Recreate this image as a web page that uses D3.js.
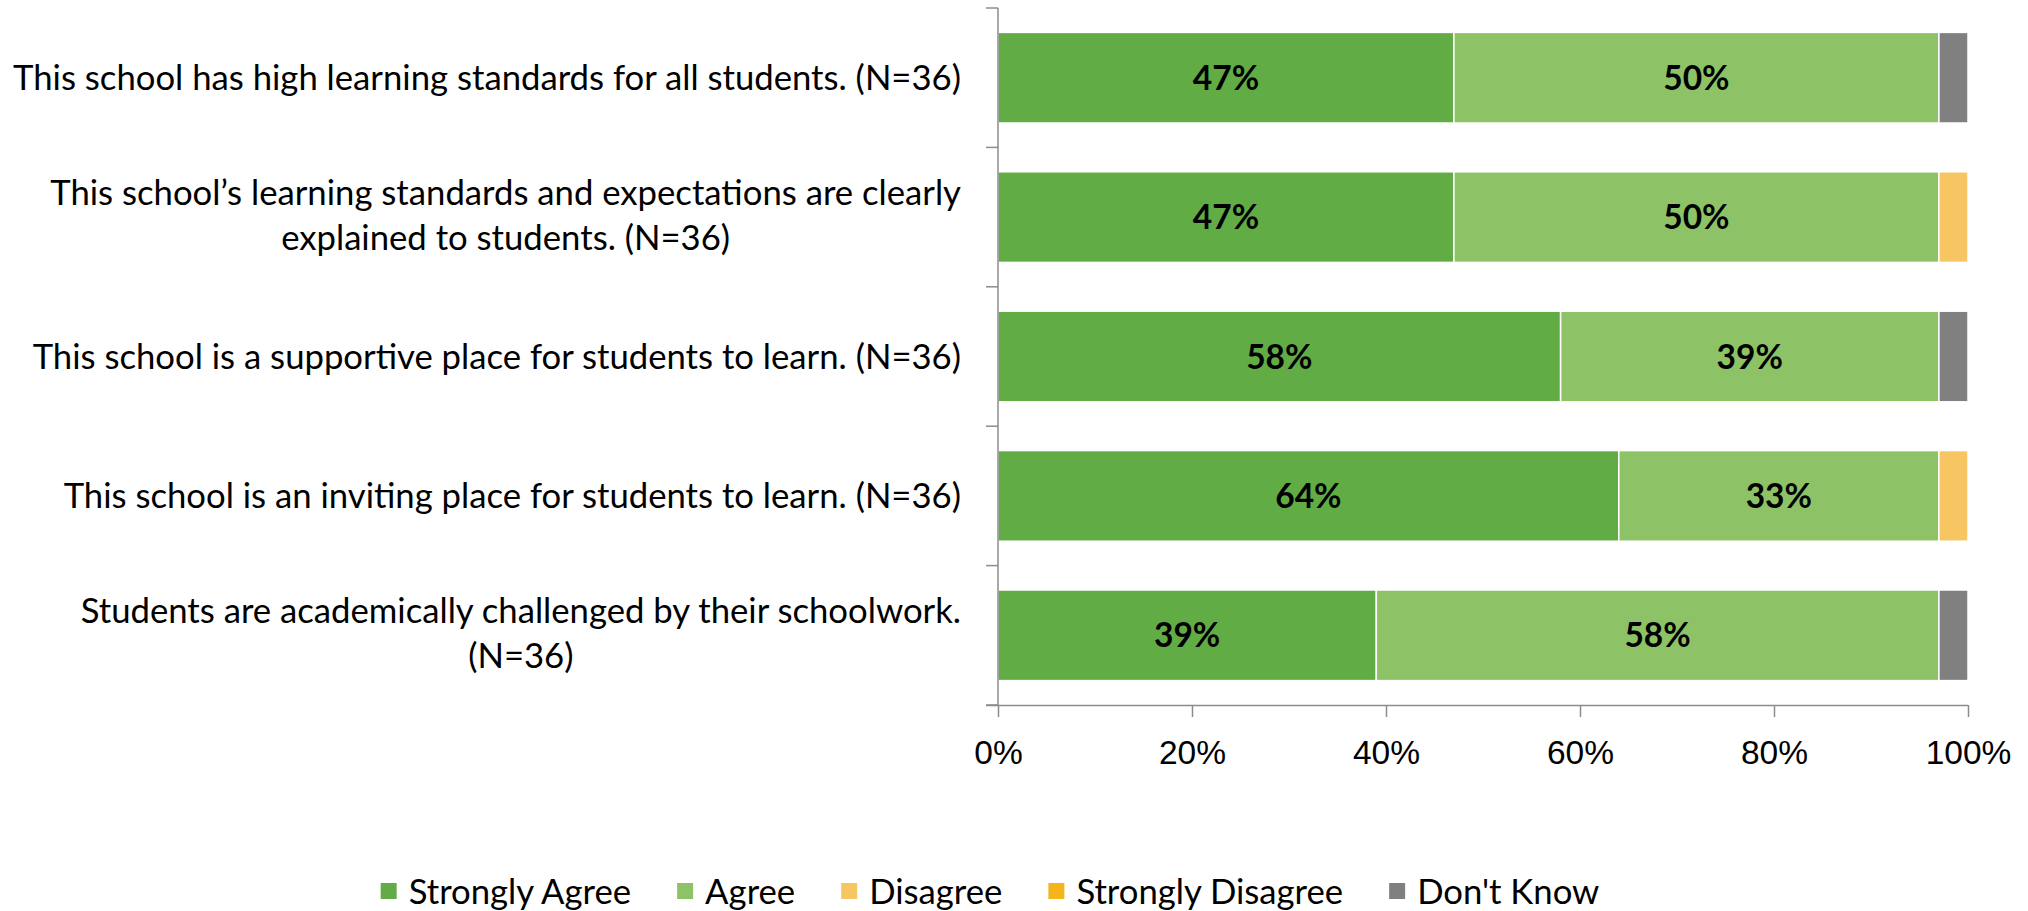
<!DOCTYPE html>
<html>
<head>
<meta charset="utf-8">
<script src="https://cdn.jsdelivr.net/npm/d3@7"></script>
<style>
  html, body { margin: 0; padding: 0; background: #fff; }
  svg { display: block; font-family: Lato, "Liberation Sans", sans-serif; }
</style>
</head>
<body>
<svg id="chart" width="2028" height="911"></svg>
<script>
const categories = [
  ["This school has high learning standards for all students. (N=36)"],
  ["This school\u2019s learning standards and expectations are clearly", "explained to students. (N=36)"],
  ["This school is a supportive place for students to learn. (N=36)"],
  ["This school is an inviting place for students to learn. (N=36)"],
  ["Students are academically challenged by their schoolwork.", "(N=36)"]
];
const seriesNames = ["Strongly Agree", "Agree", "Disagree", "Strongly Disagree", "Don't Know"];
const stronglyAgree    = [47, 47, 58, 64, 39];
const agree            = [50, 50, 39, 33, 58];
const disagree         = [0, 3, 0, 3, 0];
const stronglyDisagree = [0, 0, 0, 0, 0];
const dontKnow         = [3, 0, 3, 0, 3];
const xTicks = [0, 20, 40, 60, 80, 100];
const colors = ["#62ac46", "#8dc366", "#f7c562", "#f4b41a", "#808080"];

const seriesValues = [stronglyAgree, agree, disagree, stronglyDisagree, dontKnow];
const rows = categories.map((c, i) => {
  const r = { key: i };
  seriesNames.forEach((s, j) => r[s] = seriesValues[j][i]);
  return r;
});

const svg = d3.select("#chart");
const FS = 33.5;
const FS_CAT = 34.7;
const axisColor = "#8c8c8c";

const x = d3.scaleLinear().domain([0, 100]).range([998, 1968]);
const y = d3.scaleBand().domain(d3.range(categories.length)).range([8, 705])
  .paddingInner(0.35).paddingOuter(0.175);

const stack = d3.stack().keys(seriesNames);
const stacked = stack(rows);

// bars
const g = svg.append("g");
stacked.forEach((layer, j) => {
  g.selectAll(null).data(layer).join("rect")
    .attr("x", d => x(d[0]))
    .attr("y", (d, i) => y(i))
    .attr("width", d => Math.max(0, x(d[1]) - x(d[0])))
    .attr("height", y.bandwidth())
    .attr("fill", colors[j])
    .attr("stroke", "#fff")
    .attr("stroke-width", 1.5)
    .attr("display", d => (d[1] - d[0]) > 0 ? null : "none");
});

// data labels (only for big segments)
stacked.forEach((layer, j) => {
  g.selectAll(null).data(layer.map((d, i) => ({d, i})).filter(o => o.d[1] - o.d[0] >= 10))
    .join("text")
    .attr("x", o => x((o.d[0] + o.d[1]) / 2))
    .attr("y", o => y(o.i) + y.bandwidth() / 2)
    .attr("dy", "0.36em")
    .attr("text-anchor", "middle")
    .attr("font-weight", "bold")
    .attr("font-size", FS)
    .attr("fill", "#000")
    .text(o => (o.d[1] - o.d[0]) + "%");
});

// left axis line with category boundary ticks
const yBoundaries = d3.range(categories.length + 1).map(i => 8 + i * (697 / categories.length));
svg.append("line").attr("x1", x(0)).attr("x2", x(0)).attr("y1", 8).attr("y2", 705)
  .attr("stroke", axisColor).attr("stroke-width", 1.5);
svg.selectAll(null).data(yBoundaries).join("line")
  .attr("x1", x(0) - 12).attr("x2", x(0)).attr("y1", d => d).attr("y2", d => d)
  .attr("stroke", axisColor).attr("stroke-width", 1.5);

// bottom axis
const xAxis = d3.axisBottom(x).tickValues(xTicks).tickFormat(d => d + "%").tickSize(12).tickSizeOuter(0);
const xa = svg.append("g").attr("transform", "translate(0,705)").call(xAxis);
xa.select(".domain").attr("stroke", axisColor).attr("stroke-width", 1.5)
  .attr("d", `M${x(0) - 12},0.5H${x(100)}`);
xa.selectAll(".tick line").attr("stroke", axisColor).attr("stroke-width", 1.5);
xa.selectAll(".tick text").attr("font-size", FS).attr("font-family", null).attr("fill", "#000")
  .attr("y", 0).attr("dy", 59);

// category labels
const labelRight = 961;
const lineH = 45;
categories.forEach((lines, i) => {
  const cy = y(i) + y.bandwidth() / 2 - (lines.length > 1 ? 2 : 0);
  const tg = svg.append("g");
  const texts = lines.map((ln, k) => tg.append("text")
    .attr("font-size", FS_CAT).attr("fill", "#000")
    .attr("text-anchor", "middle")
    .attr("y", cy + (k - (lines.length - 1) / 2) * lineH)
    .attr("dy", "0.36em")
    .text(ln));
  const w = d3.max(texts, t => t.node().getComputedTextLength());
  texts.forEach(t => t.attr("x", labelRight - w / 2));
});

// legend
const legend = svg.append("g");
let lx = 0;
seriesNames.forEach((s, j) => {
  const it = legend.append("g");
  it.append("rect").attr("x", 0).attr("y", -8).attr("width", 16).attr("height", 16).attr("fill", colors[j]);
  const t = it.append("text").attr("x", 28).attr("y", 0).attr("dy", "0.36em").attr("font-size", FS_CAT).attr("fill", "#000").text(s);
  const w = t.node().getComputedTextLength();
  it.attr("transform", `translate(${lx},0)`);
  lx += 28 + w + 46;
});
const totalW = lx - 46;
legend.attr("transform", `translate(${990 - totalW / 2},891)`);
</script>
</body>
</html>
